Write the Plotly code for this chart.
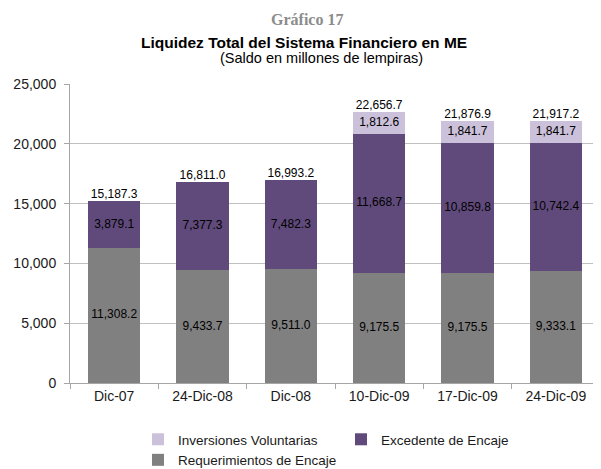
import plotly.graph_objects as go

categories = ["Dic-07", "24-Dic-08", "Dic-08", "10-Dic-09", "17-Dic-09", "24-Dic-09"]
requerimientos = [11308.2, 9433.7, 9511.0, 9175.5, 9175.5, 9333.1]
excedente = [3879.1, 7377.3, 7482.3, 11668.7, 10859.8, 10742.4]
inversiones = [0, 0, 0, 1812.6, 1841.7, 1841.7]
totales = [15187.3, 16811.0, 16993.2, 22656.7, 21876.9, 21917.2]
yticks = [0, 5000, 10000, 15000, 20000, 25000]

def fmt(v):
    return f"{v:,.1f}"

LBL = dict(color="black", size=12, family="Arial")

fig = go.Figure()
series = [
    ("Requerimientos de Encaje", requerimientos, "#808080"),
    ("Excedente de Encaje", excedente, "#604A7B"),
    ("Inversiones Voluntarias", inversiones, "#CCC1DA"),
]
for name, vals, col in series:
    fig.add_trace(go.Bar(
        x=categories, y=vals, name=name,
        marker=dict(color=col, line=dict(width=0)),
        hoverinfo="x+y+name",
    ))

# inside labels, centred in each stacked segment
base = [0.0] * len(categories)
for name, vals, col in series:
    mids, txt, xs = [], [], []
    for i, v in enumerate(vals):
        if v > 0:
            xs.append(categories[i])
            mids.append(base[i] + v / 2)
            txt.append(fmt(v))
        base[i] += v
    fig.add_trace(go.Scatter(
        x=xs, y=mids, mode="text", text=txt, textposition="middle center",
        textfont=LBL, showlegend=False, hoverinfo="skip",
    ))

fig.add_trace(go.Scatter(
    x=categories, y=totales, mode="text", text=[fmt(v) for v in totales],
    textposition="top center", textfont=LBL,
    showlegend=False, hoverinfo="skip",
))

# page has an 8px body margin, so the figure is drawn 8px in from the corner
OFF = 8
W, H = 601 - OFF, 469 - OFF
ML, MR, MT, MB = 70 - OFF, 1, 84 - OFF, 469 - 383
plot_w = W - ML - MR
plot_h = H - MT - MB

def xpix(p):
    return (p - OFF - ML) / plot_w

def ypix(p):
    return (H - MB - (p - OFF)) / plot_h

fig.update_layout(
    barmode="stack", bargap=0.41,
    width=W, height=H,
    margin=dict(l=ML, r=MR, t=MT, b=MB, autoexpand=False),
    paper_bgcolor="white", plot_bgcolor="white",
    font=dict(family="Arial", size=14, color="#1a1a1a"),
    showlegend=True,
    legend=dict(orientation="h", x=xpix(138), y=ypix(424), xanchor="left", yanchor="top",
                traceorder="reversed", entrywidth=158, itemwidth=30,
                font=dict(size=13.5, family="Arial", color="#1a1a1a")),
    annotations=[
        dict(text="<b>Gráfico 17</b>", x=xpix(307), xref="paper", xanchor="center",
             y=ypix(20), yref="paper", yanchor="middle", showarrow=False,
             font=dict(family="Liberation Serif", size=16, color="#8c8c8c")),
        dict(text="<b>Liquidez Total del Sistema Financiero en ME</b>", x=xpix(304),
             xref="paper", xanchor="center", y=ypix(42), yref="paper", yanchor="middle",
             showarrow=False, font=dict(family="Arial", size=15.5, color="black")),
        dict(text="(Saldo en millones de lempiras)", x=xpix(321),
             xref="paper", xanchor="center", y=ypix(58), yref="paper", yanchor="middle",
             showarrow=False, font=dict(family="Arial", size=14.5, color="black")),
    ],
)

fig.update_xaxes(showline=True, linecolor="#a6a6a6", linewidth=1,
                 ticks="outside", tickson="boundaries", ticklen=5, tickcolor="#a6a6a6",
                 tickfont=dict(size=14, color="#1a1a1a"))
fig.update_yaxes(range=[0, 25000], tickvals=yticks, tickformat=",",
                 showgrid=True, gridcolor="#c0c0c0", gridwidth=1,
                 showline=True, linecolor="#a6a6a6", linewidth=1,
                 ticks="outside", ticklen=5, tickcolor="#a6a6a6",
                 ticklabelstandoff=5,
                 tickfont=dict(size=14, color="#1a1a1a"), zeroline=False)

fig.write_html("out.html")
